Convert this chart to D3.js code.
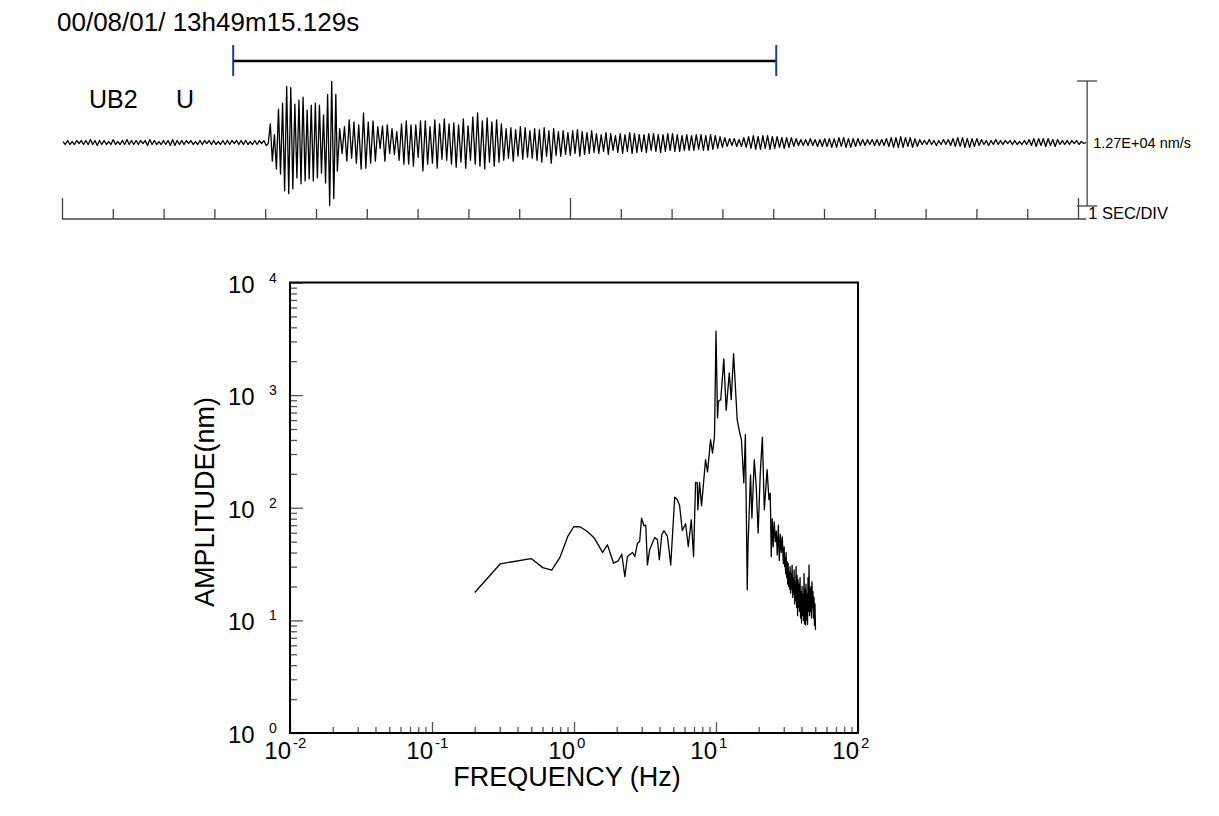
<!DOCTYPE html>
<html>
<head>
<meta charset="utf-8">
<script src="https://cdn.jsdelivr.net/npm/d3@7"></script>
<style>
body { margin: 0; background: #fff; }
text { font-family: "Liberation Sans", Arial, Helvetica, sans-serif; fill: #000; }
</style>
</head>
<body>
<svg id="chart" width="1219" height="816"></svg>
<script>
// header texts
const eventTime = "00/08/01/ 13h49m15.129s";
const station = "UB2";
const component = "U";
const scaleLabel = "1.27E+04 nm/s";
const timeLabel = "1 SEC/DIV";

// analysis window on the record (s)
const windowStart = 3.37;
const windowEnd = 14.06;

// seismogram, velocity in units of 100 nm/s, samples evenly spaced inside each span (s)
const noiseSpan = [0.02, 4.02];
const noiseValues = [1,-2,2,-2,1,-2,2,-1,2,-2,2,-2,3,-2,2,-3,2,-2,2,-2,1,-2,3,-2,1,-2,2,-2,3,-2,
  2,-2,2,-2,2,-1,2,-3,3,-2,2,-2,1,-2,2,-2,2,-3,3,-3,2,-2,2,-2,2,-1,2,-2,1,-2,
  2,-2,2,-1,2,-2,2,-2,1,-2,2,-2,2,-2,2,-1,2,-2,2,-2,2,-2,1,-2,2,-2,2,-1,2,-3];
const onsetSpan = [4.06, 5.39];
const onsetValues = [-1,19,-19,8,-27,34,-32,40,-49,57,-52,56,-47,39,-36,43,-42,46,-39,33,
  -37,38,-39,40,-36,38,-31,28,-41,49,-64,62,-57,49];
const codaSpan = [5.42, 20.16];
const codaValues = [
  -29,14,-11,16,-19,23,-16,21,-21,18,-27,30,-26,21,-21,22,-19,16,-6,17,
  -19,18,-11,14,-12,11,-18,19,-22,22,-22,18,-24,18,-15,22,-29,22,-22,16,
  -21,23,-26,19,-17,24,-18,19,
  -22,20,-25,18,-20,24,-26,17,-18,26,-22,30,-24,22,-27,25,-20,21,-24,23,
  -20,19,-18,14,-16,15,-19,13,-14,16,-17,15,-15,12,-16,14,-18,13,-20,15,
  -14,12,-21,14,-13,11,-14,12,-12,10,-13,12,-11,13,-14,11,-12,10,-11,12,
  -10,9,-11,8,-9,10,-12,9,-8,7,-10,9,-11,8,-9,10,-11,9,-10,8,
  -9,8,-10,9,-8,9,-9,8,-10,8,-9,9,-8,9,-9,8,-9,7,-8,8,
  -8,7,-8,8,-7,8,-8,7,-8,8,-7,7,-6,6,-5,5,-4,4,-3,4,
  -4,3,-4,5,-5,6,-6,7,-7,6,-7,7,-6,7,-7,6,-6,6,-5,5,
  -6,5,-5,5,-4,4,-3,3,-3,3,-3,4,-3,3,-4,3,-4,4,-4,4,
  -5,4,-5,5,-4,5,-5,4,-5,4,-4,4,-3,3,-3,3,-2,3,-3,3,
  -3,3,-3,4,-4,5,-5,5,-5,6,-5,5,-4,5,-5,4,-4,3,-2,2,
  -2,3,-2,2,-3,2,-2,3,-2,3,-3,4,-4,5,-4,5,-5,4,-5,4,
  -4,4,-3,3,-2,2,-3,2,-2,3,-2,2,-2,2,-1,2,-2,2,-2,1,
  -2,2,-2,3,-3,4,-4,4,-3,4,-4,4,-3,3,-4,3,-2,2,-2,2,
  -2,2,-1,2,-2,1,-1,0];

// Fourier spectrum
const freqHz = [0.20,0.303,0.499,0.603,0.697,0.798,0.904,0.995,1.10,1.23,1.39,1.59,1.72,1.90,2.05,2.17,2.28,2.38,
  2.58,2.68,2.80,2.90,2.99,3.11,3.20,3.29,3.41,3.70,3.87,3.99,4.15,4.30,4.55,4.80,5.12,5.35,5.54,5.79,6.11,6.38,
  6.70,6.95,7.18,7.38,7.45,7.66,7.91,8.44,8.72,9.15,9.45,9.76,10.0,10.25,10.4,10.8,11.35,11.8,12.4,12.8,13.3,
  14.1,14.7,15.1,15.7,16.1,16.6,16.8,17.5,17.9,18.6,19.2,19.8,20.5,21.2,21.9,22.9,23.6,24.1,
  24.5,24.9,25.3,25.7,26.2,26.6,27.0,27.5,27.9,28.4,28.8,29.3,29.8,
  30.2,30.44,30.69,30.94,31.19,31.44,31.70,31.96,32.22,32.48,32.74,33.00,33.27,33.54,33.81,34.08,
  34.36,34.64,34.92,35.20,35.49,35.77,36.06,36.36,36.65,36.95,37.25,37.55,37.85,38.16,38.47,38.78,
  39.09,39.41,39.73,40.05,40.37,40.70,41.03,41.36,41.69,42.03,42.37,42.71,43.06,43.41,43.76,44.11,
  44.47,44.83,45.19,45.56,45.93,46.30,46.67,47.05,47.43,47.82,48.20,48.59,48.99,49.39,49.79,50.19];
const amplitudeNm = [17.7,31.8,35.4,29.4,27.9,36.5,55.6,67.8,67.8,62.1,53.8,40.1,46.9,32.2,33.8,38.7,24.5,36.9,
  40.1,36.9,48.5,50.1,80.9,69.2,70.2,31.1,42.4,54.5,52.0,34.5,57.5,62.5,55.6,31.1,124,118,105,62.8,72.1,45.3,
  78.2,36.9,168,166,95.9,168,104,267,208,402,306,430,3690,627,881,912,2099,733,1575,912,2339,
  605,461,402,166,446,18.7,45.3,196,80.9,267,155,59.6,203,422,95.9,218,118,135,
  37,80,45,75,50,62,38,70,34,58,40,55,32,
  45,30,36,26,40,24,33,21,32,20,27,19,30,17.5,26,19,
  31,16,24,17,28,14,22,15,30,13,25,11,23,13,21,12,
  24,10.5,18,9.5,20,11,17,10,26,9.3,19,9.1,21,10,17,9.2,
  24,12,31,11,19,12,20,10.5,22,13,18,10.5,16,9,14,8.2];

const svg = d3.select("#chart");

// ---------- seismogram ----------
const xT = d3.scaleLinear().domain([0, 20]).range([62, 1078]);
const yV = d3.scaleLinear().domain([-6450, 6250]).range([206, 81]);

function spread(span, values) {
  const step = (span[1] - span[0]) / (values.length - 1);
  return values.map((v, i) => ({ t: span[0] + i * step, v: v * 100 }));
}
const trace = [].concat(spread(noiseSpan, noiseValues), spread(onsetSpan, onsetValues), spread(codaSpan, codaValues));

svg.append("path")
  .datum(trace)
  .attr("fill", "none")
  .attr("stroke", "#000")
  .attr("stroke-width", 1.3)
  .attr("stroke-linejoin", "round")
  .attr("d", d3.line().x(d => xT(d.t)).y(d => yV(d.v)));

// time axis, 1 s per division
const axisY = 219;
const tAxis = svg.append("g")
  .attr("transform", "translate(0," + axisY + ")")
  .call(d3.axisTop(xT).tickValues(d3.range(0, 21)).tickSize(10).tickSizeOuter(0).tickFormat(""));
tAxis.select(".domain").remove();
tAxis.selectAll(".tick line").attr("stroke", "#444").attr("stroke-width", 1.3);
tAxis.selectAll(".tick line").filter(d => d % 10 === 0).attr("y2", -21);
svg.append("line")
  .attr("x1", xT(0)).attr("x2", xT(codaSpan[1]))
  .attr("y1", axisY).attr("y2", axisY)
  .attr("stroke", "#444").attr("stroke-width", 1.5);

// amplitude scale bar
const barX = xT(codaSpan[1]) + 1;
const bar = svg.append("g").attr("stroke", "#444").attr("stroke-width", 1.3);
bar.append("line").attr("x1", barX).attr("x2", barX).attr("y1", yV(6250)).attr("y2", yV(-6450));
bar.append("line").attr("x1", barX - 10).attr("x2", barX + 10).attr("y1", yV(6250)).attr("y2", yV(6250));
bar.append("line").attr("x1", barX - 10).attr("x2", barX + 10).attr("y1", yV(-6450)).attr("y2", yV(-6450));

svg.append("text").attr("x", barX + 6).attr("y", yV(0) + 5.5)
  .style("font-size", "14.5px").text(scaleLabel);
svg.append("text").attr("x", barX + 1).attr("y", axisY)
  .style("font-size", "16.5px").text(timeLabel);

// analysis window bar
const winY = 61;
svg.append("line")
  .attr("x1", xT(windowStart)).attr("x2", xT(windowEnd))
  .attr("y1", winY).attr("y2", winY)
  .attr("stroke", "#000").attr("stroke-width", 2.5);
[windowStart, windowEnd].forEach(t => {
  svg.append("line")
    .attr("x1", xT(t)).attr("x2", xT(t))
    .attr("y1", winY - 16).attr("y2", winY + 15)
    .attr("stroke", "#1f3c88").attr("stroke-width", 2);
});

svg.append("text").attr("x", 57).attr("y", 31).style("font-size", "26px").text(eventTime);
svg.append("text").attr("x", 89).attr("y", 108).style("font-size", "25px").text(station);
svg.append("text").attr("x", 176).attr("y", 108).style("font-size", "25px").text(component);

// ---------- spectrum ----------
const xF = d3.scaleLog().domain([0.01, 100]).range([290, 858]);
const yA = d3.scaleLog().domain([1, 10000]).range([733, 282.5]);
const isDecade = d => Math.abs(Math.log10(d) - Math.round(Math.log10(d))) < 1e-9;

const left = svg.append("g")
  .attr("transform", "translate(" + xF.range()[0] + ",0)")
  .call(d3.axisRight(yA).tickValues(yA.ticks()).tickSize(7).tickFormat(""));
left.select(".domain").remove();
left.selectAll(".tick line").attr("stroke", "#555").attr("stroke-width", 1.3);
left.selectAll(".tick line").filter(isDecade).attr("x2", 13);

const bottom = svg.append("g")
  .attr("transform", "translate(0," + yA.range()[0] + ")")
  .call(d3.axisTop(xF).tickValues(xF.ticks()).tickSize(6).tickFormat(""));
bottom.select(".domain").remove();
bottom.selectAll(".tick line").attr("stroke", "#555").attr("stroke-width", 1.3);
bottom.selectAll(".tick line").filter(isDecade).attr("y2", -11);

svg.append("rect")
  .attr("x", xF.range()[0]).attr("y", yA.range()[1])
  .attr("width", xF.range()[1] - xF.range()[0])
  .attr("height", yA.range()[0] - yA.range()[1])
  .attr("fill", "none").attr("stroke", "#000").attr("stroke-width", 2);

const spec = freqHz.map((f, i) => ({ f: f, a: amplitudeNm[i] }));
svg.append("path")
  .datum(spec)
  .attr("fill", "none")
  .attr("stroke", "#000")
  .attr("stroke-width", 1.3)
  .attr("stroke-linejoin", "round")
  .attr("d", d3.line().x(d => xF(d.f)).y(d => yA(d.a)));

// power-of-ten labels
[0, 1, 2, 3, 4].forEach(e => {
  const y = yA(Math.pow(10, e));
  svg.append("text").attr("x", xF.range()[0] - 62).attr("y", y + 10).style("font-size", "24px").text("10");
  svg.append("text").attr("x", xF.range()[0] - 21).attr("y", y).style("font-size", "14px").text(e);
});
[-2, -1, 0, 1, 2].forEach(e => {
  const x = xF(Math.pow(10, e));
  svg.append("text").attr("x", x + 1).attr("y", 759).attr("text-anchor", "end")
    .style("font-size", "24px").text("10");
  svg.append("text").attr("x", x + 3).attr("y", 748).style("font-size", "15px")
    .text(e < 0 ? "-" + Math.abs(e) : e);
});

svg.append("text")
  .attr("x", 567).attr("y", 786).attr("text-anchor", "middle")
  .style("font-size", "27px").text("FREQUENCY (Hz)");
svg.append("text")
  .attr("transform", "translate(214,502) rotate(-90)")
  .attr("text-anchor", "middle")
  .style("font-size", "27px").text("AMPLITUDE(nm)");
</script>
</body>
</html>
